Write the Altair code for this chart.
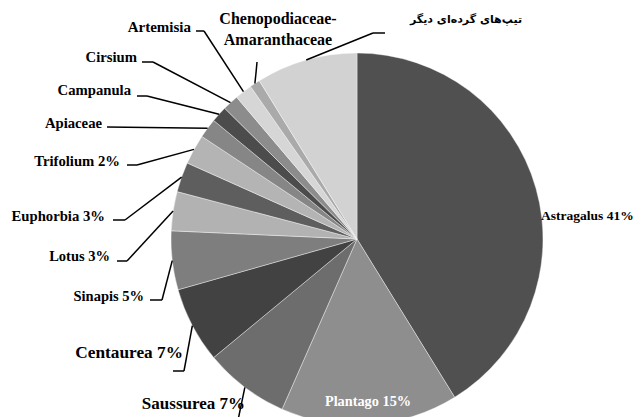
import math
import altair as alt
import pandas as pd

# ---- data ----
categories = ["Astragalus", "Plantago", "Saussurea", "Centaurea", "Sinapis", "Lotus",
              "Euphorbia", "Trifolium", "Apiaceae", "Campanula", "Cirsium", "Artemisia",
              "Chenopodiaceae-Amaranthaceae", "Others"]
values = [41.2, 15.4, 7.4, 6.6, 5.1, 3.4, 2.6, 2.6, 1.7, 1.4, 1.4, 1.5, 0.9, 8.8]
label_lines = [["Astragalus 41%"], ["Plantago 15%"], ["Saussurea 7%"], ["Centaurea 7%"],
               ["Sinapis 5%"], ["Lotus 3%"], ["Euphorbia 3%"], ["Trifolium 2%"],
               ["Apiaceae"], ["Campanula"], ["Cirsium"], ["Artemisia"],
               ["Chenopodiaceae-", "Amaranthaceae"], ["تیپ\u200cهای گرده\u200cای دیگر"]]

# ---- styles / layout ----
colors = ["#505050", "#8e8e8e", "#6d6d6d", "#424242", "#7e7e7e", "#b2b2b2", "#5e5e5e",
          "#b4b4b4", "#868686", "#4c4c4c", "#8c8c8c", "#d6d6d6", "#aaaaaa", "#d2d2d2"]
CX, CY, R = 349, 231, 186
OFF = 8  # page margin

# label layout: (x, y of first line, align, font size, colour, leader points before rim) in page px
layout = {
    "Astragalus": (541, 216, "left", 13.5, "black", None),
    "Plantago": (368, 402, "center", 14.3, "white", None),
    "Saussurea": (245, 404, "right", 17, "black", [(237, 425)]),
    "Centaurea": (183, 353, "right", 17.3, "black", [(173, 371), (184, 371)]),
    "Sinapis": (144, 297, "right", 14.5, "black", [(150, 300), (162, 300)]),
    "Lotus": (110, 257, "right", 14.5, "black", [(117, 261), (127, 261)]),
    "Euphorbia": (105, 217, "right", 14.7, "black", [(113, 220), (125, 220)]),
    "Trifolium": (120, 162, "right", 14.7, "black", [(127, 165), (137, 165)]),
    "Apiaceae": (102, 124, "right", 14.7, "black", [(107, 127)]),
    "Campanula": (131, 91, "right", 14.7, "black", [(137, 96), (147, 96)]),
    "Cirsium": (137, 58, "right", 14.7, "black", [(142, 62), (153, 62)]),
    "Artemisia": (191, 27, "right", 15, "black", [(196, 31), (204, 31)]),
    "Chenopodiaceae-Amaranthaceae": (278, 19, "center", 16, "black", [(257, 62), (256, 73)]),
    "Others": (466, 20, "center", 11, "black", [(385, 33), (373, 33)]),
}

pie_df = pd.DataFrame({"cat": categories, "value": values, "idx": range(len(categories))})

total = sum(values)
text_rows, seg_rows = [], []
cum = 0.0
for cat, v, lines in zip(categories, values, label_lines):
    mid = (cum + v / 2) / total * 2 * math.pi
    cum += v
    rx = CX + R * math.sin(mid)
    ry = CY - R * math.cos(mid)
    tx, ty, al, fs, col, pts = layout[cat]
    font = "DejaVu Sans" if cat == "Others" else "Liberation Serif"
    for i, ln in enumerate(lines):
        text_rows.append({"t": ln, "x": tx - OFF, "y": ty - OFF + i * 21, "align": al,
                          "fs": fs, "col": col, "font": font})
    if pts:
        chain = [(px - OFF, py - OFF) for px, py in pts] + [(rx, ry)]
        for (x1, y1), (x2, y2) in zip(chain[:-1], chain[1:]):
            seg_rows.append({"x": x1, "y": y1, "x2": x2, "y2": y2})

text_df = pd.DataFrame(text_rows)
seg_df = pd.DataFrame(seg_rows)

pie = alt.Chart(pie_df).mark_arc(outerRadius=R, stroke="white", strokeWidth=0.4).encode(
    theta=alt.Theta("value:Q", stack=True),
    order=alt.Order("idx:Q"),
    color=alt.Color("cat:N", scale=alt.Scale(domain=categories, range=colors), legend=None),
    x=alt.value(CX), y=alt.value(CY),
)

segs = alt.Chart(seg_df).mark_rule(color="black", strokeWidth=1.5).encode(
    x=alt.X("x:Q", scale=None), y=alt.Y("y:Q", scale=None),
    x2="x2:Q", y2="y2:Q",
)

layers = [pie, segs]
for al in ["left", "center", "right"]:
    for font in ["Liberation Serif", "DejaVu Sans"]:
        sub = text_df[(text_df["align"] == al) & (text_df["font"] == font)]
        if len(sub) == 0:
            continue
        layers.append(
            alt.Chart(sub).mark_text(align=al, baseline="middle", fontWeight="bold", font=font).encode(
                x=alt.X("x:Q", scale=None), y=alt.Y("y:Q", scale=None),
                text="t:N",
                size=alt.Size("fs:Q", scale=None),
                color=alt.Color("col:N", scale=None),
            )
        )

chart = alt.layer(*layers).properties(
    width=625, height=409, padding=0, autosize="none"
).configure_view(stroke=None)

chart.save("out.html", embed_options={"renderer": "svg", "actions": False})
